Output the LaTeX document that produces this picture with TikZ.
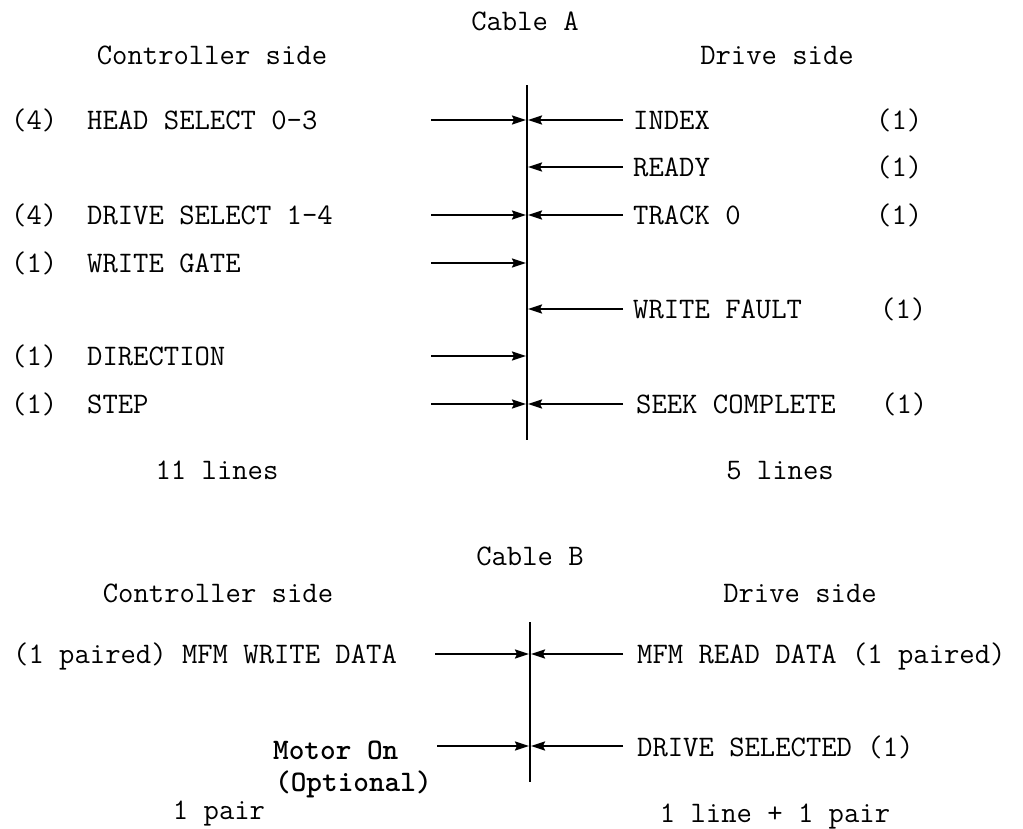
\documentclass[tikz,border=0pt]{standalone}
\usetikzlibrary{arrows.meta}

\begin{document}
\begin{tikzpicture}[x=1pt,y=-1pt,
    lbl/.style={font=\ttfamily\fontsize{29.8}{34}\selectfont, inner sep=0pt,
      text height=18pt, text depth=0pt},
    bus/.style={line width=2pt},
    sig/.style={line width=2pt, -{Stealth[length=14pt,width=9pt,inset=2pt]}}]

  \useasboundingbox (0,0) rectangle (1023,828);

  % Cable A headings
  \node[lbl] (cableA) at (525,21) {Cable A};
  \node[lbl] (ctrlA) at (212,55) {Controller side};
  \node[lbl] (driveA) at (777,55) {Drive side};

  % Cable A connector
  \coordinate (busAtop) at (527,85);
  \coordinate (busAbot) at (527,440);
  \draw[bus] (busAtop) -- (busAbot);

  % controller signals
  \foreach \y/\n/\txt [count=\i] in {120/4/HEAD SELECT 0-3, 215/4/DRIVE SELECT 1-4,
      263/1/WRITE GATE, 356/1/DIRECTION, 404/1/STEP} {
    \node[lbl, anchor=west] (cnum\i) at (11,\y) {(\n)};
    \node[lbl, anchor=west] (cname\i) at (87,\y) {\txt};
    \coordinate (cin\i) at (431,\y);
    \coordinate (cbus\i) at (526,\y);
    \draw[sig] (cin\i) -- (cbus\i);
  }

  % drive signals
  \foreach \y/\x/\nx/\txt [count=\i] in {120/633/876/INDEX, 167/633/876/READY,
      215/633/876/TRACK 0, 309/633/880/WRITE FAULT, 404/636/881/SEEK COMPLETE} {
    \node[lbl, anchor=west] (dname\i) at (\x,\y) {\txt};
    \node[lbl, anchor=west] (dnum\i) at (\nx,\y) {(1)};
    \coordinate (din\i) at (623,\y);
    \coordinate (dbus\i) at (528,\y);
    \draw[sig] (din\i) -- (dbus\i);
  }

  \node[lbl] (ctrlAcount) at (217,470) {11 lines};
  \node[lbl] (driveAcount) at (780,470) {5 lines};

  % Cable B headings
  \node[lbl] (cableB) at (530,556) {Cable B};
  \node[lbl] (ctrlB) at (218,593) {Controller side};
  \node[lbl] (driveB) at (800,593) {Drive side};

  % Cable B connector
  \coordinate (busBtop) at (530,622);
  \coordinate (busBbot) at (530,782);
  \draw[bus] (busBtop) -- (busBbot);

  \node[lbl, anchor=west] (wdata) at (13,654) {(1 paired) MFM WRITE DATA};
  \node[lbl, anchor=west] (rdata) at (637,654) {MFM READ DATA (1 paired)};
  \node[lbl, anchor=west, font=\ttfamily\bfseries\fontsize{29.8}{34}\selectfont] (motor) at (273,750) {Motor On};
  \node[lbl, anchor=west, font=\ttfamily\bfseries\fontsize{29.8}{34}\selectfont] (optional) at (275,782) {(Optional)};
  \node[lbl, anchor=west] (dsel) at (637,747) {DRIVE SELECTED (1)};

  \coordinate (wdin) at (435,654);
  \coordinate (wdbus) at (529,654);
  \coordinate (rdin) at (623,654);
  \coordinate (rdbus) at (531,654);
  \coordinate (moin) at (437,746);
  \coordinate (mobus) at (529,746);
  \coordinate (dsin) at (623,746);
  \coordinate (dsbus) at (531,746);
  \draw[sig] (wdin) -- (wdbus);
  \draw[sig] (rdin) -- (rdbus);
  \draw[sig] (moin) -- (mobus);
  \draw[sig] (dsin) -- (dsbus);

  \node[lbl] (ctrlBcount) at (219,810) {1 pair};
  \node[lbl] (driveBcount) at (775,813) {1 line + 1 pair};
\end{tikzpicture}
\end{document}
